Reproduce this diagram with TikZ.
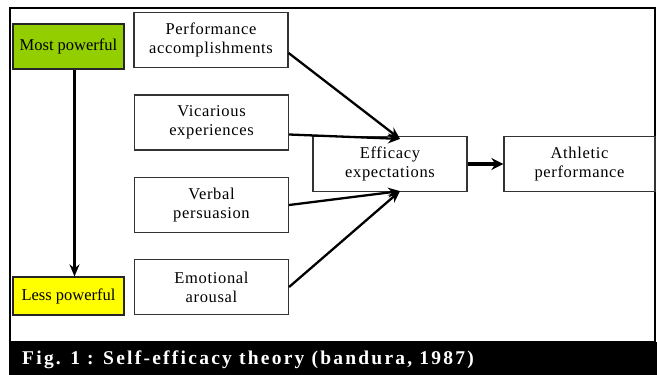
\documentclass[tikz,border=0pt]{standalone}
\usepackage{fontspec}
\setmainfont{Liberation Serif}
\usetikzlibrary{arrows.meta}

\definecolor{strong}{RGB}{146,206,0}
\definecolor{weak}{RGB}{255,255,0}

\tikzset{
  box/.style={draw=black!80, line width=1.2pt, minimum width=154, minimum height=55,
    align=center, inner sep=0pt, font=\fontsize{16.5}{19}\selectfont\addfontfeatures{LetterSpace=4}},
  level/.style={draw=black!85, line width=1.2pt, minimum width=111, align=center,
    inner sep=0pt, font=\fontsize{16.5}{19}\selectfont},
  feed/.style={->, line width=2.3pt, black}
}

\begin{document}
\begin{tikzpicture}[x=1pt,y=-1pt,>={Stealth[length=12pt,width=10pt]}]
  \useasboundingbox (0,0) rectangle (657,375);
  % frame and caption bar
  \fill[white] (0,0) rectangle (657,375);
  \draw[line width=2.2pt] (10,8) rectangle (655,342);
  \fill[black] (9,342) rectangle (657,375);
  \node[anchor=base west, text=white, inner sep=0pt,
    font=\fontsize{19.5}{22}\bfseries\selectfont\addfontfeatures{LetterSpace=11.5}]
    (cap) at (22,364) {Fig. 1 : Self-efficacy theory (bandura, 1987)};

  % strength scale
  \node[level, fill=strong, minimum height=45] (most) at (68.5,46.5) {Most powerful};
  \node[level, fill=weak, minimum height=38] (less) at (68.5,296) {Less powerful};
  \draw[feed] ([xshift=6]most.south) -- ([xshift=6]less.north);

  % sources of efficacy
  \node[box] (perf) at (211,40) {Performance\\accomplishments};
  \node[box] (vic) at (211.5,122.5) {Vicarious\\experiences};
  \node[box] (verb) at (211.5,205) {Verbal\\persuasion};
  \node[box] (emo) at (211.5,287) {Emotional\\arousal};

  \node[box] (eff) at (390,164) {Efficacy\\expectations};
  \node[box, minimum width=151] (ath) at (579.5,164) {Athletic\\performance};

  \coordinate (intop) at ([xshift=10,yshift=-3]eff.north);
  \coordinate (inbot) at ([xshift=10,yshift=1]eff.south);

  \draw[feed] ([yshift=-13]perf.east) -- (intop);
  \draw[feed] ([yshift=-12]vic.east) -- (intop);
  \draw[feed] (verb.east) -- (inbot);
  \draw[feed] (emo.east) -- (inbot);
  \draw[feed, line width=4pt, >={Stealth[length=12pt,width=12pt]}] (eff) -- (ath);
\end{tikzpicture}
\end{document}
